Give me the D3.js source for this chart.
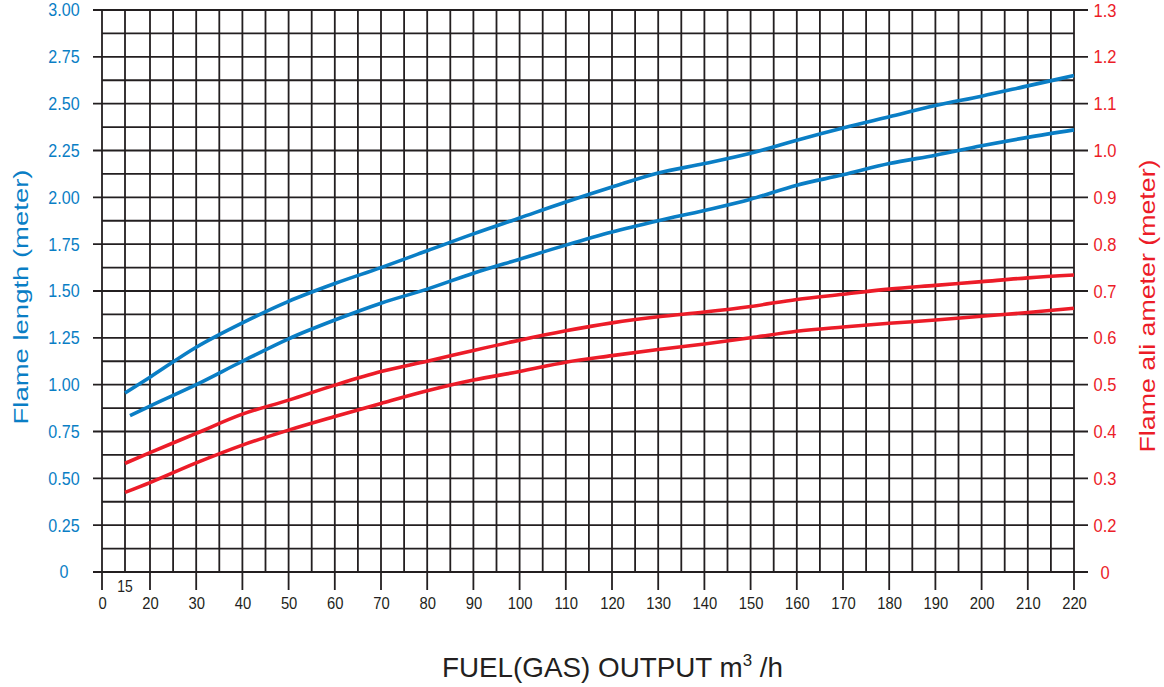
<!DOCTYPE html>
<html>
<head>
<meta charset="utf-8">
<script src="https://cdn.jsdelivr.net/npm/d3@7"></script>
<style>
  html, body { margin: 0; padding: 0; background: #fff; }
  svg { display: block; font-family: "Liberation Sans", Arial, Helvetica, sans-serif; }
</style>
</head>
<body>
<svg id="chart" width="1164" height="687"></svg>
<script>
// Flame length / flame diameter vs fuel (gas) output

const flowOutput = [15, 20, 30, 40, 50, 60, 70, 80, 90, 100, 110, 120, 130, 140, 150, 160, 170, 180, 190, 200, 210, 220];
const lengthLowFlow = [16, 20, 30, 40, 50, 60, 70, 80, 90, 100, 110, 120, 130, 140, 150, 160, 170, 180, 190, 200, 210, 220];

// left axis (meter)
const lengthHigh = [0.955, 1.04, 1.20, 1.33, 1.445, 1.54, 1.625, 1.715, 1.805, 1.89, 1.975, 2.055, 2.13, 2.18, 2.235, 2.305, 2.37, 2.43, 2.49, 2.54, 2.595, 2.65];
const lengthLow = [0.835, 0.886, 1.0, 1.125, 1.245, 1.345, 1.435, 1.51, 1.595, 1.67, 1.745, 1.815, 1.875, 1.93, 1.99, 2.065, 2.12, 2.18, 2.225, 2.275, 2.32, 2.36];

// right axis (meter)
const diameterHigh = [0.332, 0.355, 0.396, 0.437, 0.467, 0.499, 0.528, 0.55, 0.573, 0.595, 0.615, 0.632, 0.645, 0.655, 0.667, 0.682, 0.693, 0.704, 0.712, 0.72, 0.728, 0.734];
const diameterLow = [0.27, 0.291, 0.333, 0.371, 0.403, 0.432, 0.46, 0.487, 0.51, 0.528, 0.548, 0.562, 0.575, 0.587, 0.6, 0.614, 0.623, 0.631, 0.638, 0.646, 0.654, 0.663];

// ticks
const xTicks = [0, 20, 30, 40, 50, 60, 70, 80, 90, 100, 110, 120, 130, 140, 150, 160, 170, 180, 190, 200, 210, 220];
const xGrid = [0, 15].concat(d3.range(20, 221, 5));
const leftTicks = [0, 0.25, 0.5, 0.75, 1, 1.25, 1.5, 1.75, 2, 2.25, 2.5, 2.75, 3];
const leftTickLabels = ["0", "0.25", "0.50", "0.75", "1.00", "1.25", "1.50", "1.75", "2.00", "2.25", "2.50", "2.75", "3.00"];
const rightTicks = [0, 0.2, 0.3, 0.4, 0.5, 0.6, 0.7, 0.8, 0.9, 1.0, 1.1, 1.2, 1.3];
const rightTickLabels = ["0", "0.2", "0.3", "0.4", "0.5", "0.6", "0.7", "0.8", "0.9", "1.0", "1.1", "1.2", "1.3"];

const BLUE = "#0a7ec5";
const RED = "#ec1c28";
const INK = "#231f20";

const svg = d3.select("#chart");

// scales (the printed axes are not uniform near zero, hence the piecewise domains)
const x = d3.scaleLinear().domain([0, 15, 20, 220]).range([102, 125, 150, 1074]);
const y = d3.scaleLinear().domain([0, 3]).range([572, 10]);
const yRight = d3.scaleLinear().domain([0, 0.2, 1.3]).range([y(0), y(0.25), y(3)]);

const plotLeft = x(0), plotRight = x(220), plotTop = y(3), plotBottom = y(0);

// grid
const grid = svg.append("g").attr("stroke", INK).attr("stroke-width", 1.8);

grid.selectAll("line.h")
  .data(d3.range(0, 3.001, 0.125))
  .enter().append("line")
  .attr("class", "h")
  .attr("x1", d => (d % 0.25 === 0) ? plotLeft - 9 : plotLeft)
  .attr("x2", d => (d % 0.25 === 0) ? plotRight + 14 : plotRight)
  .attr("y1", d => y(d))
  .attr("y2", d => y(d));

grid.selectAll("line.v")
  .data(xGrid)
  .enter().append("line")
  .attr("class", "v")
  .attr("x1", d => x(d))
  .attr("x2", d => x(d))
  .attr("y1", plotTop)
  .attr("y2", d => xTicks.includes(d) ? plotBottom + 18 : plotBottom);

// tick labels
const squeeze = "scale(0.87,1)";

const leftAxis = svg.append("g")
  .attr("transform", "translate(64,0)")
  .call(d3.axisLeft(y).tickValues(leftTicks).tickSize(0).tickPadding(0)
    .tickFormat((d, i) => leftTickLabels[i]));
leftAxis.select(".domain").remove();
leftAxis.selectAll("text")
  .attr("x", 0).attr("text-anchor", "middle")
  .attr("font-size", 18.5).attr("fill", BLUE)
  .attr("transform", squeeze);

const rightAxis = svg.append("g")
  .attr("transform", "translate(1105,0)")
  .call(d3.axisRight(yRight).tickValues(rightTicks).tickSize(0).tickPadding(0)
    .tickFormat((d, i) => rightTickLabels[i]));
rightAxis.select(".domain").remove();
rightAxis.selectAll("text")
  .attr("x", 0).attr("text-anchor", "middle")
  .attr("font-size", 19).attr("fill", RED)
  .attr("transform", squeeze);

const bottomAxis = svg.append("g")
  .attr("transform", `translate(0,${plotBottom + 32})`)
  .call(d3.axisBottom(x).tickValues(xTicks).tickSize(0).tickPadding(0)
    .tickFormat(d3.format("d")));
bottomAxis.select(".domain").remove();
bottomAxis.selectAll("text")
  .attr("y", 0).attr("dy", "0.32em")
  .attr("font-size", 17).attr("fill", INK)
  .attr("transform", squeeze);

[leftAxis, rightAxis, bottomAxis].forEach(a => a.attr("font-family", null).attr("font-size", null));

svg.append("text")
  .attr("x", x(15)).attr("y", plotBottom + 15)
  .attr("dy", "0.32em")
  .attr("text-anchor", "middle")
  .attr("font-size", 16).attr("fill", INK)
  .attr("transform", `translate(${x(15)},0) ${squeeze} translate(${-x(15)},0)`)
  .text("15");

// curves
const line = d3.line().curve(d3.curveMonotoneX);
const curves = svg.append("g").attr("fill", "none").attr("stroke-width", 3.6).attr("stroke-linecap", "butt");

curves.append("path")
  .attr("stroke", BLUE)
  .attr("d", line(flowOutput.map((f, i) => [x(f), y(lengthHigh[i])])));
curves.append("path")
  .attr("stroke", BLUE)
  .attr("d", line(lengthLowFlow.map((f, i) => [x(f), y(lengthLow[i])])));
curves.append("path")
  .attr("stroke", RED)
  .attr("d", line(flowOutput.map((f, i) => [x(f), yRight(diameterHigh[i])])));
curves.append("path")
  .attr("stroke", RED)
  .attr("d", line(flowOutput.map((f, i) => [x(f), yRight(diameterLow[i])])));

// axis titles
svg.append("text")
  .attr("transform", `translate(28,${(plotTop + plotBottom) / 2 + 6}) rotate(-90)`)
  .attr("text-anchor", "middle")
  .attr("font-size", 21)
  .attr("fill", BLUE)
  .attr("textLength", 255).attr("lengthAdjust", "spacingAndGlyphs")
  .text("Flame length (meter)");

svg.append("text")
  .attr("transform", `translate(1155,${(plotTop + plotBottom) / 2 + 15}) rotate(-90)`)
  .attr("text-anchor", "middle")
  .attr("font-size", 22)
  .attr("fill", RED)
  .attr("textLength", 293).attr("lengthAdjust", "spacingAndGlyphs")
  .text("Flame ali ameter (meter)");

const xTitle = svg.append("text")
  .attr("x", 442).attr("y", 677)
  .attr("font-size", 28)
  .attr("fill", INK)
  .attr("textLength", 341).attr("lengthAdjust", "spacingAndGlyphs");
xTitle.append("tspan").text("FUEL(GAS) OUTPUT m");
xTitle.append("tspan").attr("dy", -11).attr("font-size", 17).text("3");
xTitle.append("tspan").attr("dy", 11).text(" /h");
</script>
</body>
</html>
